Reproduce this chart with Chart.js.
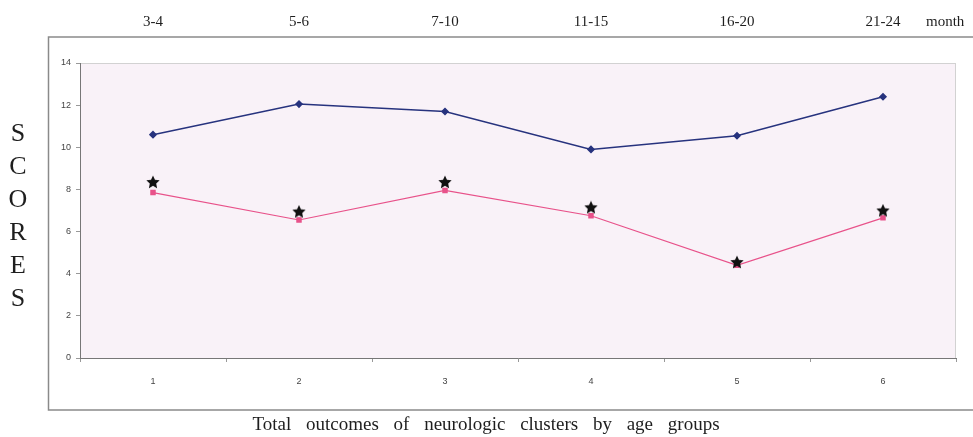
<!DOCTYPE html>
<html>
<head>
<meta charset="utf-8">
<script src="https://cdn.jsdelivr.net/npm/chart.js@4"></script>
<style>
    body { margin: 0; background: #fff; }
    #wrap { width: 973px; height: 437px; }
</style>
</head>
<body>
<div id="wrap"><canvas id="chart-scores" width="973" height="437"></canvas></div>
<script>
groups = ['1', '2', '3', '4', '5', '6']
age_groups = ['3-4', '5-6', '7-10', '11-15', '16-20', '21-24']
blue_scores = [10.6, 12.05, 11.7, 9.9, 10.55, 12.4]
pink_scores = [7.85, 6.55, 7.95, 6.75, 4.4, 6.65]
star_scores = [8.35, 6.95, 8.35, 7.15, 4.55, 7.0]
y_title = 'SCORES'
top_unit = 'month'
bottom_title = 'Total outcomes of neurologic clusters by age groups'

blue_color = '#27337e'
pink_color = '#e8528a'
plot_back_color = '#f9f2f8'

function make_star(size) {
    const c = document.createElement('canvas')
    c.width = size
    c.height = size
    const ctx = c.getContext('2d')
    const cx = size / 2, cy = size / 2 + 0.5, ro = size / 2, ri = ro * 0.48
    ctx.beginPath()
    for (let i = 0; i < 10; i++) {
        const r = i % 2 == 0 ? ro : ri
        const a = -Math.PI / 2 + i * Math.PI / 5
        ctx.lineTo(cx + r * Math.cos(a), cy + r * Math.sin(a))
    }
    ctx.closePath()
    ctx.fillStyle = '#111'
    ctx.fill()
    return c
}

const decor = {
    id: 'decor',
    beforeDraw(chart) {
        const { ctx, chartArea: a } = chart
        ctx.save()
        ctx.fillStyle = plot_back_color
        ctx.fillRect(a.left, a.top, a.right - a.left, a.bottom - a.top)
        ctx.strokeStyle = '#d2d2d2'
        ctx.lineWidth = 1
        ctx.strokeRect(a.left + 0.5, a.top + 0.5, a.right - a.left - 1, a.bottom - a.top)
        ctx.restore()
    },
    afterDraw(chart) {
        const ctx = chart.ctx
        ctx.save()
        // outer frame
        ctx.strokeStyle = '#8a8a8a'
        ctx.lineWidth = 1.5
        ctx.beginPath()
        ctx.moveTo(980, 37)
        ctx.lineTo(48.5, 37)
        ctx.lineTo(48.5, 410)
        ctx.lineTo(980, 410)
        ctx.stroke()

        ctx.fillStyle = '#1e1e1e'
        ctx.textAlign = 'center'
        ctx.textBaseline = 'middle'
        ctx.font = '26px "Liberation Serif"'
        for (let i = 0; i < y_title.length; i++) {
            ctx.fillText(y_title[i], 18, 134 + i * 33)
        }

        ctx.font = '15px "Liberation Serif"'
        ctx.textAlign = 'left'
        ctx.fillText(top_unit, 926, 22)

        ctx.font = '19px "Liberation Serif"'
        ctx.textAlign = 'center'
        ctx.wordSpacing = '10px'
        ctx.fillText(bottom_title, 486, 425)
        ctx.restore()
    }
}

const data = {
    labels: groups,
    datasets: [{
        label: 'stars',
        data: star_scores,
        showLine: false,
        pointStyle: make_star(14),
        pointRadius: 7,
        order: 0
    }, {
        label: 'blue',
        data: blue_scores,
        borderColor: blue_color,
        backgroundColor: blue_color,
        borderWidth: 1.5,
        pointStyle: 'rectRot',
        pointRadius: 3,
        order: 1
    }, {
        label: 'pink',
        data: pink_scores,
        borderColor: pink_color,
        backgroundColor: pink_color,
        borderWidth: 1.2,
        pointStyle: 'rect',
        pointRadius: 3,
        order: 2
    }]
}

scores_chart = new Chart(
    document.getElementById('chart-scores').getContext('2d'), {
        type: 'line',
        data: data,
        plugins: [decor],
        options: {
            responsive: false,
            animation: false,
            layout: {
                padding: { left: 48, right: 17, top: 0, bottom: 0 }
            },
            plugins: {
                legend: { display: false },
                tooltip: { enabled: false },
                title: { display: false }
            },
            scales: {
                x: {
                    position: 'bottom',
                    offset: true,
                    afterFit: (s) => { s.height = 79 },
                    grid: {
                        offset: true,
                        drawOnChartArea: false,
                        tickLength: 4,
                        color: '#999'
                    },
                    border: { color: '#777', width: 1 },
                    ticks: {
                        padding: 14,
                        color: '#444',
                        font: { family: 'Liberation Sans', size: 9 }
                    }
                },
                xTop: {
                    type: 'category',
                    position: 'top',
                    labels: age_groups,
                    offset: true,
                    afterFit: (s) => { s.height = 63 },
                    grid: { display: false },
                    border: { display: false },
                    ticks: {
                        padding: 24,
                        color: '#1e1e1e',
                        font: { family: 'Liberation Serif', size: 15 }
                    }
                },
                y: {
                    min: 0,
                    max: 14,
                    afterFit: (s) => { s.width = 32 },
                    grid: {
                        drawOnChartArea: false,
                        tickLength: 4,
                        color: '#999'
                    },
                    border: { color: '#777', width: 1 },
                    ticks: {
                        stepSize: 2,
                        padding: 5,
                        color: '#444',
                        font: { family: 'Liberation Sans', size: 9 }
                    }
                }
            }
        }
    })
</script>
</body>
</html>
